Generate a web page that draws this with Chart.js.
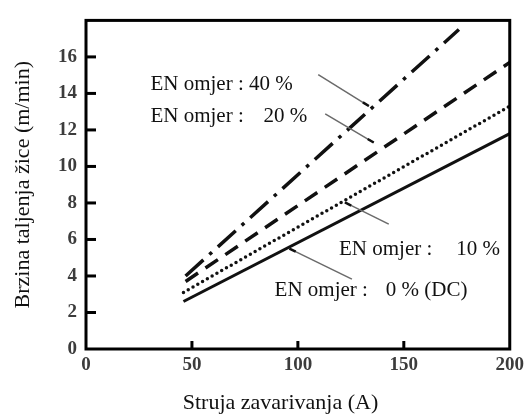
<!DOCTYPE html>
<html>
<head>
<meta charset="utf-8">
<script src="https://cdn.jsdelivr.net/npm/chart.js@4"></script>
<style>
  html, body { margin: 0; padding: 0; background: #fff; }
</style>
</head>
<body>
<canvas id="chart" width="529" height="414"></canvas>
<script>
// EN ratio series, welding current (A) vs wire melting speed (m/min)
const seriesNames = ['EN 0 %', 'EN 10 %', 'EN 20 %', 'EN 40 %'];
const current0 = [46, 200];
const speed0 = [2.6, 11.8];
const current10 = [46, 200];
const speed10 = [3.1, 13.3];
const current20 = [47, 200];
const speed20 = [3.7, 15.7];
const current40 = [47, 176];
const speed40 = [4.0, 17.5];

const xTicks = [0, 50, 100, 150, 200];
const yTicks = [0, 2, 4, 6, 8, 10, 12, 14, 16];

const xTitle = 'Struja zavarivanja (A)';
const yTitle = 'Brzina taljenja žice (m/min)';

// callout labels, placed in data units; tip = index of the leader end that touches the line
const callouts = [
    { y: 14.17, parts: [[30.4, 'EN omjer : 40 %']], leader: [[109.6, 15.03], [133.5, 13.31]], tip: 1 },
    { y: 12.45, parts: [[30.4, 'EN omjer :'], [83.8, '20 %']], leader: [[112.9, 12.88], [135.8, 11.31]], tip: 1 },
    { y: 5.17, parts: [[119.4, 'EN omjer :'], [174.7, '10 %']], leader: [[122.2, 8.03], [142.9, 6.84]], tip: 0 },
    { y: 2.91, parts: [[89, 'EN omjer :'], [141.5, '0 % (DC)']], leader: [[96, 5.5], [125.5, 3.83]], tip: 0 }
];

function toPoints(xs, ys) {
    return xs.map((x, i) => ({ x: x, y: ys[i] }));
}

const serif = "'Liberation Serif', 'Times New Roman', serif";

const framePlugin = {
    id: 'frame',
    afterDatasetsDraw(chart) {
        const ctx = chart.ctx;
        const a = chart.chartArea;
        const xs = chart.scales.x;
        const ys = chart.scales.y;
        ctx.save();

        // callout leaders
        callouts.forEach(c => {
            const p0 = [xs.getPixelForValue(c.leader[0][0]), ys.getPixelForValue(c.leader[0][1])];
            const p1 = [xs.getPixelForValue(c.leader[1][0]), ys.getPixelForValue(c.leader[1][1])];
            ctx.strokeStyle = '#6a6a6a';
            ctx.lineWidth = 1.5;
            ctx.beginPath();
            ctx.moveTo(p0[0], p0[1]);
            ctx.lineTo(p1[0], p1[1]);
            ctx.stroke();

            // small dark mark where the leader meets its line
            const t = c.tip === 1 ? p1 : p0;
            const o = c.tip === 1 ? p0 : p1;
            const len = Math.hypot(o[0] - t[0], o[1] - t[1]);
            const ux = (o[0] - t[0]) / len, uy = (o[1] - t[1]) / len;
            ctx.strokeStyle = '#111';
            ctx.lineWidth = 2.5;
            ctx.beginPath();
            ctx.moveTo(t[0], t[1]);
            ctx.lineTo(t[0] + ux * 7, t[1] + uy * 7);
            ctx.stroke();
        });

        // callout text
        ctx.fillStyle = '#111';
        ctx.font = '21px ' + serif;
        ctx.textBaseline = 'alphabetic';
        ctx.textAlign = 'left';
        callouts.forEach(c => {
            c.parts.forEach(p => {
                ctx.fillText(p[1], xs.getPixelForValue(p[0]), ys.getPixelForValue(c.y));
            });
        });

        // frame
        ctx.strokeStyle = '#000';
        ctx.lineWidth = 3;
        ctx.strokeRect(a.left, a.top, a.right - a.left, a.bottom - a.top);

        // inward ticks
        yTicks.slice(1).forEach(v => {
            const py = ys.getPixelForValue(v);
            ctx.beginPath();
            ctx.moveTo(a.left, py);
            ctx.lineTo(a.left + 10, py);
            ctx.stroke();
        });
        xTicks.slice(1, -1).forEach(v => {
            const px = xs.getPixelForValue(v);
            ctx.beginPath();
            ctx.moveTo(px, a.bottom);
            ctx.lineTo(px, a.bottom - 8);
            ctx.stroke();
        });

        // x axis title
        ctx.fillStyle = '#111';
        ctx.font = '22px ' + serif;
        ctx.textAlign = 'center';
        ctx.textBaseline = 'middle';
        ctx.fillText(xTitle, xs.getPixelForValue(91.8), 403);
        ctx.restore();
    }
};

const lineStyle = { pointRadius: 0, borderColor: '#111', fill: false, tension: 0, showLine: true };

new Chart(document.getElementById('chart').getContext('2d'), {
    type: 'scatter',
    data: {
        datasets: [
            Object.assign({ label: seriesNames[0], data: toPoints(current0, speed0), borderWidth: 3 }, lineStyle),
            Object.assign({ label: seriesNames[1], data: toPoints(current10, speed10), borderWidth: 3.5,
                borderDash: [0, 5.5], borderCapStyle: 'round' }, lineStyle),
            Object.assign({ label: seriesNames[2], data: toPoints(current20, speed20), borderWidth: 3.5,
                borderDash: [15, 9] }, lineStyle),
            Object.assign({ label: seriesNames[3], data: toPoints(current40, speed40), borderWidth: 3.5,
                borderDash: [24, 8, 3.5, 8] }, lineStyle)
        ]
    },
    options: {
        responsive: false,
        animation: false,
        layout: { padding: { top: 15, right: 16, left: 0, bottom: 0 } },
        plugins: { legend: { display: false }, tooltip: { enabled: false } },
        scales: {
            x: {
                type: 'linear',
                min: 0,
                max: 200,
                afterBuildTicks: s => { s.ticks = xTicks.map(v => ({ value: v })); },
                afterFit: s => { s.height = 65; },
                grid: { display: false, drawTicks: false },
                border: { display: false },
                ticks: { padding: 5, color: '#3c3c3c', font: { family: serif, size: 19, weight: 'bold' } }
            },
            y: {
                type: 'linear',
                min: 0,
                max: 18,
                afterBuildTicks: s => { s.ticks = yTicks.map(v => ({ value: v })); },
                afterFit: s => { s.width = 86; },
                grid: { display: false, drawTicks: false },
                border: { display: false },
                ticks: { padding: 9, color: '#3c3c3c', font: { family: serif, size: 19, weight: 'bold' } },
                title: { display: true, text: yTitle, color: '#111', padding: { top: 10 },
                    font: { family: serif, size: 22 } }
            }
        }
    },
    plugins: [framePlugin]
});
</script>
</body>
</html>
